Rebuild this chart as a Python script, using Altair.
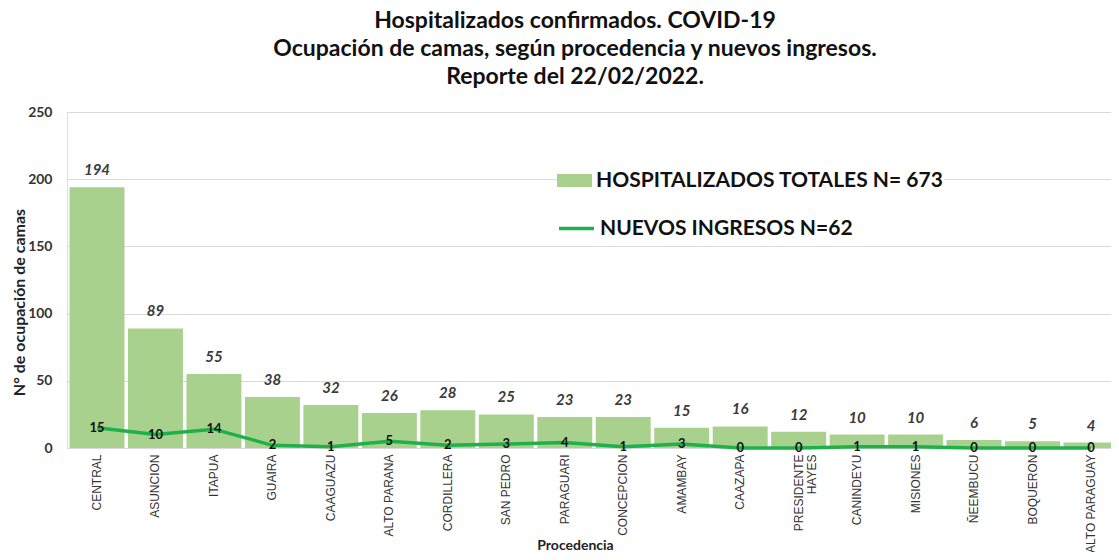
import altair as alt
import pandas as pd

categorias = ["CENTRAL", "ASUNCION", "ITAPUA", "GUAIRA", "CAAGUAZU", "ALTO PARANA",
              "CORDILLERA", "SAN PEDRO", "PARAGUARI", "CONCEPCION", "AMAMBAY", "CAAZAPA",
              "PRESIDENTE HAYES", "CANINDEYU", "MISIONES", "ÑEEMBUCU", "BOQUERON",
              "ALTO PARAGUAY"]
hospitalizados = [194, 89, 55, 38, 32, 26, 28, 25, 23, 23, 15, 16, 12, 10, 10, 6, 5, 4]
nuevos = [15, 10, 14, 2, 1, 5, 2, 3, 4, 1, 3, 0, 0, 1, 1, 0, 0, 0]
titulo = ["Hospitalizados confirmados. COVID-19",
          "Ocupación de camas, según procedencia y nuevos ingresos.",
          "Reporte del 22/02/2022."]
serie_barras = "HOSPITALIZADOS TOTALES N= 673"
serie_linea = "NUEVOS INGRESOS N=62"
y_ticks = [0, 50, 100, 150, 200, 250]

df = pd.DataFrame({"Procedencia": categorias,
                   "Hospitalizados": hospitalizados,
                   "Nuevos": nuevos})

FONT = "Lato"
x_scale = alt.Scale(paddingInner=0.06, paddingOuter=0.043, range=[0, 1054])

x_enc = alt.X(
    "Procedencia:N", sort=categorias, scale=x_scale,
    axis=alt.Axis(
        title="Procedencia", labelAngle=270, ticks=False, domain=False,
        labelFont="Liberation Sans", labelFontSize=12, labelColor="#333333",
        labelPadding=6, labelLineHeight=13,
        labelExpr="datum.label == 'PRESIDENTE HAYES' ? ['PRESIDENTE', 'HAYES'] : datum.label",
        titleFont=FONT, titleFontSize=14, titleFontWeight="bold", titleColor="#222222",
        titleX=508, titleY=97, titleAlign="center", titleBaseline="middle",
    ),
)

y_enc = alt.Y(
    "Hospitalizados:Q",
    scale=alt.Scale(domain=[0, 250], nice=False),
    axis=alt.Axis(
        values=y_ticks, title="N° de ocupación de camas", ticks=False, domain=False,
        labelFont=FONT, labelFontSize=14, labelFontWeight="bold", labelColor="#333333",
        labelPadding=15, gridColor="#d9d9d9", gridWidth=1,
        titleFont=FONT, titleFontSize=16, titleFontWeight="bold", titleColor="#222222",
        titlePadding=0, titleY=190, titleAlign="center",
    ),
)

base = alt.Chart(df)

bars = base.mark_bar().encode(
    x=x_enc,
    y=y_enc,
    fill=alt.Fill(
        "serie:N",
        scale=alt.Scale(domain=[serie_barras], range=["#a9d18e"]),
        legend=alt.Legend(
            orient="none", legendX=490, legendY=51, title=None,
            symbolType="M-1,-0.371H1V0.371H-1Z", symbolSize=1225,
            symbolStrokeWidth=0, labelFont=FONT, labelFontSize=21,
            labelFontWeight="bold", labelColor="#111111", labelOffset=4,
            fillColor="white", padding=0, labelLimit=500,
        ),
    ),
).transform_calculate(serie=f"'{serie_barras}'")

bar_labels = base.mark_text(
    baseline="bottom", dy=-9, font=FONT, fontSize=15, fontStyle="italic",
    fontWeight="bold", color="#3a3a3a",
).encode(
    x=alt.X("Procedencia:N", sort=categorias, scale=x_scale),
    y="Hospitalizados:Q",
    text="Hospitalizados:Q",
)

line = base.mark_line(strokeWidth=3.5).encode(
    x=alt.X("Procedencia:N", sort=categorias, scale=x_scale),
    y="Nuevos:Q",
    stroke=alt.Stroke(
        "serie:N",
        scale=alt.Scale(domain=[serie_linea], range=["#1fb04c"]),
        legend=alt.Legend(
            orient="none", legendX=490, legendY=97, title=None,
            symbolType="stroke", symbolSize=1225, symbolStrokeWidth=3.5,
            labelFont=FONT, labelFontSize=21, labelFontWeight="bold",
            labelColor="#111111", labelOffset=4, fillColor="white",
            padding=0, labelLimit=500,
        ),
    ),
).transform_calculate(serie=f"'{serie_linea}'")

line_labels = base.mark_text(
    baseline="middle", font=FONT, fontSize=13, fontWeight="bold", color="#111111",
).encode(
    x=alt.X("Procedencia:N", sort=categorias, scale=x_scale),
    y="Nuevos:Q",
    text="Nuevos:Q",
)

chart = alt.layer(bars, bar_labels, line, line_labels).properties(
    width=1044, height=336,
    padding={"left": 59, "top": 104, "right": 0, "bottom": 104},
    autosize=alt.AutoSizeParams(type="none"),
    title=alt.TitleParams(
        text=titulo, font=FONT, fontSize=23, fontWeight="bold", color="#111111",
        lineHeight=28, anchor="middle", frame="group", dx=-14, offset=16,
    ),
).configure_view(stroke=None).configure(background="white")

chart.save("out.html", embed_options={"renderer": "svg", "actions": False})
